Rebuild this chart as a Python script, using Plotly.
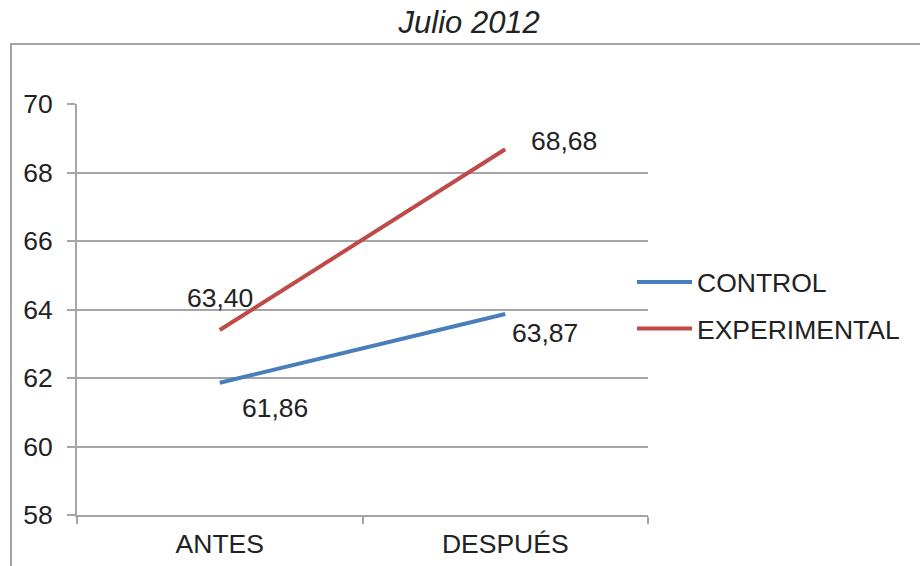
import plotly.graph_objects as go

categorias = ["ANTES", "DESPUÉS"]
control = [61.86, 63.87]
experimental = [63.40, 68.68]
y_ticks = [58, 60, 62, 64, 66, 68, 70]

AZUL = "#4a7ebb"
ROJO = "#be4b48"
GRIS = "#a5a5a8"
TEXTO = "#222222"
FUENTE = "Liberation Sans, Arial, sans-serif"
TAM = 26.5


def etiqueta(v):
    return f"{v:.2f}".replace(".", ",")


fig = go.Figure()
fig.add_trace(go.Scatter(x=categorias, y=control, mode="lines", name="CONTROL",
                         legendgroup="control",
                         line=dict(color=AZUL, width=4)))
fig.add_trace(go.Scatter(x=categorias, y=experimental, mode="lines", name="EXPERIMENTAL",
                         legendgroup="experimental",
                         line=dict(color=ROJO, width=4)))

# value labels next to each point
desplazamientos_ctrl = [(55, -25), (40, -19)]
desplazamientos_exp = [(0, 32), (59, 8)]
for serie, desp in ((control, desplazamientos_ctrl), (experimental, desplazamientos_exp)):
    for cat, val, (dx, dy) in zip(categorias, serie, desp):
        fig.add_annotation(x=cat, y=val, xref="x", yref="y", text=etiqueta(val),
                           showarrow=False, xshift=dx, yshift=dy,
                           font=dict(family=FUENTE, size=TAM, color=TEXTO))

# outer chart frame
fig.add_shape(type="rect", xref="paper", yref="paper",
              x0=-0.1156, x1=1.5, y0=-0.3, y1=1.146,
              line=dict(color=GRIS, width=2), fillcolor="rgba(0,0,0,0)", layer="below")

fig.update_layout(
    width=920, height=566,
    margin=dict(l=77, r=272, t=104, b=51, autoexpand=False),
    paper_bgcolor="white", plot_bgcolor="white",
    title=dict(text="<i>Julio 2012</i>", x=0.51, xanchor="center", y=0.96, yanchor="middle",
               font=dict(family=FUENTE, size=31, color=TEXTO)),
    font=dict(family=FUENTE, size=TAM, color=TEXTO),
    showlegend=True,
    legend=dict(x=0.972, y=0.51, xanchor="left", yanchor="middle",
                font=dict(family=FUENTE, size=TAM, color=TEXTO),
                itemwidth=55, tracegroupgap=9, bgcolor="rgba(0,0,0,0)"),
    xaxis=dict(type="category", range=[-0.5, 1.5], tickson="boundaries",
               showline=True, linecolor=GRIS, linewidth=2,
               ticks="outside", ticklen=7, tickcolor=GRIS, tickwidth=2,
               showgrid=False, ticklabelstandoff=4, automargin=False,
               tickfont=dict(family=FUENTE, size=TAM, color=TEXTO)),
    yaxis=dict(range=[58, 70], tickvals=y_ticks, ticktext=[str(t) for t in y_ticks],
               showline=True, linecolor=GRIS, linewidth=2,
               ticks="outside", ticklen=8, tickcolor=GRIS, tickwidth=2,
               showgrid=True, gridcolor=GRIS, gridwidth=1.5,
               zeroline=False, ticklabelstandoff=9, automargin=False,
               tickfont=dict(family=FUENTE, size=TAM, color=TEXTO)),
)

fig.write_html("out.html")
